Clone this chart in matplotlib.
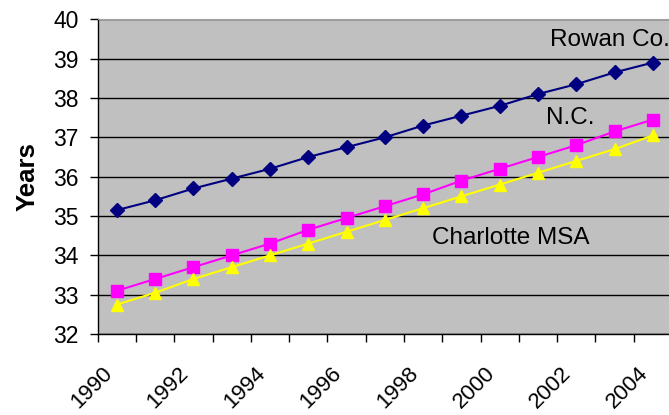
import matplotlib.pyplot as plt

plt.rcParams['font.family'] = ['Liberation Sans', 'DejaVu Sans']

years = list(range(1990, 2005))
rowan = [35.15, 35.4, 35.7, 35.95, 36.2, 36.5, 36.75, 37.0, 37.3, 37.55, 37.8, 38.1, 38.35, 38.65, 38.9]
nc = [33.1, 33.4, 33.7, 34.0, 34.3, 34.65, 34.95, 35.25, 35.55, 35.9, 36.2, 36.5, 36.8, 37.15, 37.45]
charlotte = [32.75, 33.05, 33.4, 33.7, 34.0, 34.3, 34.6, 34.9, 35.2, 35.5, 35.8, 36.1, 36.4, 36.7, 37.05]

fig = plt.figure(figsize=(6.69, 4.15), dpi=100)
ax = fig.add_axes([0.146, 0.195, 0.8585, 0.7585])
ax.set_facecolor('#C0C0C0')

x = list(range(len(years)))
ax.plot(x, rowan, color='#000080', lw=1.5, marker='D', ms=7.5, zorder=3)
ax.plot(x, nc, color='#FF00FF', lw=1.5, marker='s', ms=9, zorder=3)
ax.plot(x, charlotte, color='#FFFF00', lw=1.5, marker='^', ms=9, zorder=3)

ax.set_xlim(-0.5, len(years) - 0.5)
ax.set_ylim(32, 40)
ax.set_yticks(range(32, 41))
ax.tick_params(axis='y', labelsize=16.5, length=5.5, width=1, direction='out', pad=8)
ax.yaxis.grid(True, color='black', lw=1)
ax.set_axisbelow(True)

# category boundaries get the tick marks, every other year gets a label
ax.set_xticks([i - 0.5 for i in x])
ax.set_xticklabels([])
ax.tick_params(axis='x', length=5.5, width=1, direction='out')
for i, yr in enumerate(years):
    if i % 2 == 0:
        ax.text(i - 0.4, 31.28, str(yr), rotation=45, ha='right', va='top',
                rotation_mode='anchor', fontsize=16, clip_on=False)

ax.set_ylabel('Years', fontsize=18.5, fontweight='bold')
ax.yaxis.set_label_coords(-0.102, 0.5)

for side in ['left', 'bottom']:
    ax.spines[side].set_color('black')
    ax.spines[side].set_linewidth(1)
ax.spines['top'].set_color('#A0A0A0')
ax.spines['right'].set_visible(False)

ax.text(11.31, 39.47, 'Rowan Co.', fontsize=17.5, va='center', ha='left')
ax.text(11.2, 37.49, 'N.C.', fontsize=17.5, va='center', ha='left')
ax.text(8.22, 34.44, 'Charlotte MSA', fontsize=17.5, va='center', ha='left')

fig.savefig('out.png', dpi=100)
